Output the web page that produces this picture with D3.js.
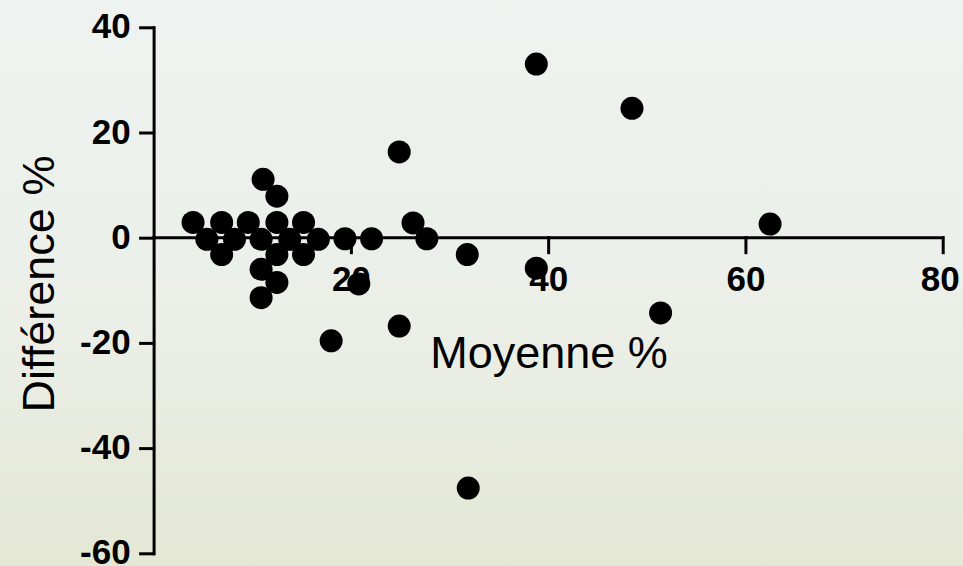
<!DOCTYPE html>
<html>
<head>
<meta charset="utf-8">
<script src="https://cdn.jsdelivr.net/npm/d3@7"></script>
<style>
  html, body { margin: 0; padding: 0; }
  body { width: 963px; height: 566px; overflow: hidden; }
  svg { display: block; }
</style>
</head>
<body>
<div id="chart"></div>
<script>
// Bland–Altman style plot: mean (%) vs difference (%)
const moyenne = [
  4.0, 6.9, 9.6, 12.5, 15.2,
  5.4, 8.2, 10.9, 13.8, 16.7,
  6.9, 12.5, 15.2,
  11.1, 12.5,
  10.9, 12.5, 10.9,
  19.4, 22.1, 20.8, 18.0,
  24.9, 26.3, 27.7, 24.9,
  31.8, 31.9,
  38.8, 38.8, 48.5, 51.4, 62.5
];
const difference = [
  2.9, 2.9, 2.9, 2.9, 2.9,
  -0.3, -0.3, -0.3, -0.3, -0.3,
  -3.2, -3.2, -3.2,
  11.1, 7.9,
  -6.0, -8.5, -11.4,
  -0.2, -0.2, -8.8, -19.6,
  16.3, 2.8, -0.2, -16.8,
  -3.2, -47.6,
  33.0, -5.8, 24.6, -14.3, 2.6
];
const xTicks = [20, 40, 60, 80];
const yTicks = [-60, -40, -20, 0, 20, 40];
const xTitle = "Moyenne %";
const yTitle = "Différence %";

const W = 963, H = 566;
const svg = d3.select("#chart").append("svg")
  .attr("width", W).attr("height", H);

// soft paper-like background
const defs = svg.append("defs");
const grad = defs.append("linearGradient")
  .attr("id", "bg").attr("x1", 0).attr("y1", 0).attr("x2", 0).attr("y2", 1);
grad.append("stop").attr("offset", "0%").attr("stop-color", "#eef3f1");
grad.append("stop").attr("offset", "55%").attr("stop-color", "#ebefe8");
grad.append("stop").attr("offset", "100%").attr("stop-color", "#e4e7d3");
svg.append("rect").attr("width", W).attr("height", H).attr("fill", "url(#bg)");

const x = d3.scaleLinear().domain([0, 80]).range([153.6, 942.7]);
const y = d3.scaleLinear().domain([-60, 40]).range([553.3, 27.3]);

const font = "'Liberation Sans', Arial, Helvetica, sans-serif";
const plain = d => String(d);   // ASCII hyphen for negatives

// vertical axis
const gy = svg.append("g")
  .attr("transform", `translate(${x(0)},0)`)
  .call(d3.axisLeft(y).tickValues(yTicks).tickSize(13).tickSizeOuter(0).tickPadding(10)
    .tickFormat(plain));

// horizontal axis through zero
const gx = svg.append("g")
  .attr("transform", `translate(0,${y(0)})`)
  .call(d3.axisBottom(x).tickValues(xTicks).tickSize(15).tickSizeOuter(0).tickPadding(13)
    .tickFormat(plain));
gx.select(".domain").attr("d", `M${x(0)},0H${x(80)}`);

[gx, gy].forEach(g => {
  g.selectAll(".domain, .tick line")
    .attr("stroke", "#000").attr("stroke-width", 3).attr("stroke-linecap", "square");
  g.selectAll(".tick text")
    .attr("fill", "#000")
    .style("font-family", font)
    .style("font-size", "35px")
    .style("font-weight", "bold");
});
gy.selectAll(".tick text").attr("dy", "0.30em");
// last x label sits flush with the right border
gx.selectAll(".tick text").filter(d => d === 80).attr("dx", "-3px");

// axis titles
svg.append("text")
  .attr("x", 549).attr("y", 368)
  .attr("text-anchor", "middle")
  .style("font-family", font)
  .style("font-size", "45px")
  .attr("fill", "#000")
  .text(xTitle);

svg.append("text")
  .attr("transform", "translate(54,284) rotate(-90)")
  .attr("text-anchor", "middle")
  .style("font-family", font)
  .style("font-size", "45px")
  .attr("fill", "#000")
  .text(yTitle);

// data points
svg.append("g")
  .selectAll("circle")
  .data(moyenne.map((m, i) => ({ m, d: difference[i] })))
  .join("circle")
  .attr("cx", p => x(p.m))
  .attr("cy", p => y(p.d))
  .attr("r", 11.5)
  .attr("fill", "#000");
</script>
</body>
</html>
